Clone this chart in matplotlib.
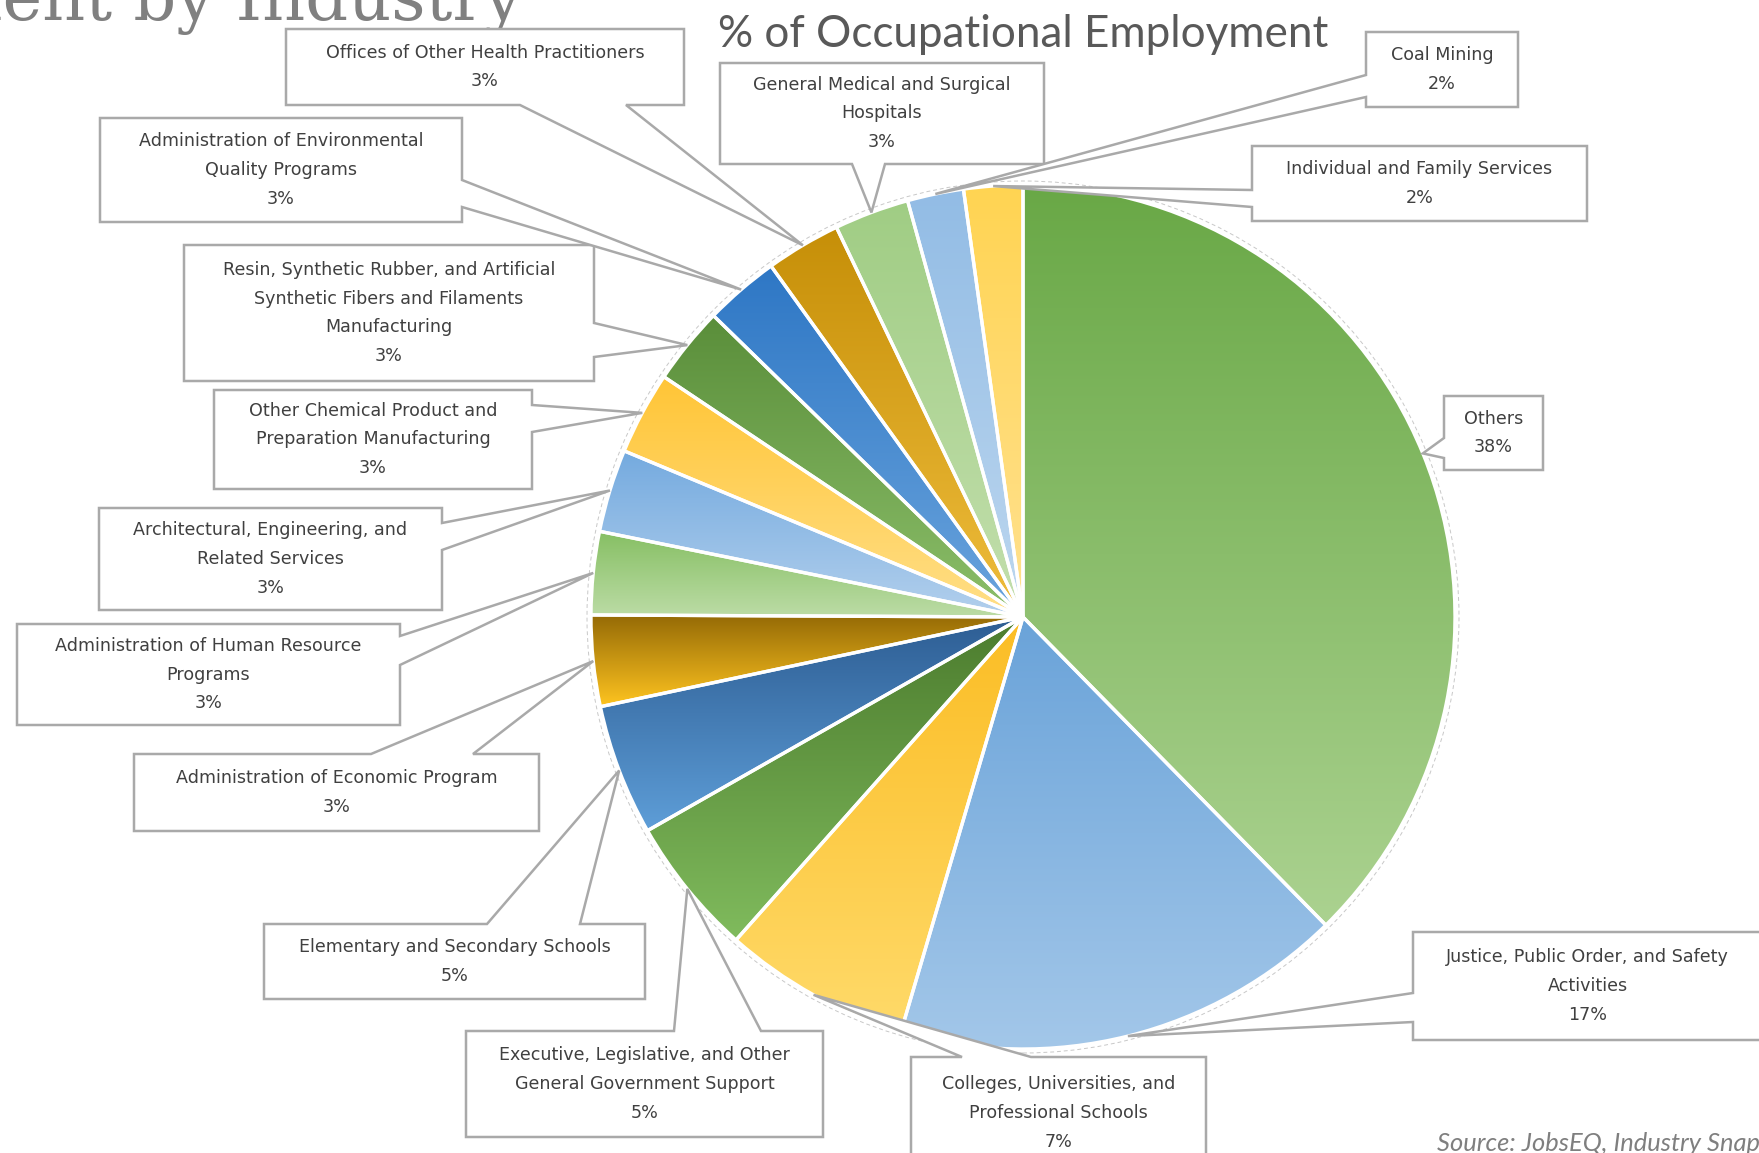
import numpy as np
import matplotlib
matplotlib.use("Agg")
import matplotlib.pyplot as plt
from matplotlib.patches import Polygon, PathPatch, Circle
from matplotlib.colors import to_rgba

# ---------------- data ----------------
categories = [
    "Others",
    "Justice, Public Order, and Safety Activities",
    "Colleges, Universities, and Professional Schools",
    "Executive, Legislative, and Other General Government Support",
    "Elementary and Secondary Schools",
    "Administration of Economic Program",
    "Administration of Human Resource Programs",
    "Architectural, Engineering, and Related Services",
    "Other Chemical Product and Preparation Manufacturing",
    "Resin, Synthetic Rubber, and Artificial Synthetic Fibers and Filaments Manufacturing",
    "Administration of Environmental Quality Programs",
    "Offices of Other Health Practitioners",
    "General Medical and Surgical Hospitals",
    "Coal Mining",
    "Individual and Family Services",
]
shares = [37.6, 16.9, 7.0, 5.2, 4.9, 3.4, 3.1, 3.1, 3.1, 2.9, 2.8, 2.8, 2.8, 2.1, 2.2]
label_text = [
    "Others",
    "Justice, Public Order, and Safety\nActivities",
    "Colleges, Universities, and\nProfessional Schools",
    "Executive, Legislative, and Other\nGeneral Government Support",
    "Elementary and Secondary Schools",
    "Administration of Economic Program",
    "Administration of Human Resource\nPrograms",
    "Architectural, Engineering, and\nRelated Services",
    "Other Chemical Product and\nPreparation Manufacturing",
    "Resin, Synthetic Rubber, and Artificial\nSynthetic Fibers and Filaments\nManufacturing",
    "Administration of Environmental\nQuality Programs",
    "Offices of Other Health Practitioners",
    "General Medical and Surgical\nHospitals",
    "Coal Mining",
    "Individual and Family Services",
]
title = "% of Occupational Employment"
page_title = "Employment by Industry"
source = "Source: JobsEQ, Industry Snapshot"

# ---------------- style ----------------
dark = ["#69a846", "#6aa3d9", "#fbbd24", "#4c7c2e", "#2d5d93", "#956a06", "#86bf63",
        "#74aadf", "#ffc536", "#5a8e3a", "#2e77c5", "#c68f08", "#a0cd84", "#92bce5", "#ffd452"]
light = ["#abd290", "#a3c7e9", "#ffda6a", "#80bb5d", "#5e9ed8", "#ffc520", "#bcdca6",
         "#b3d0ed", "#ffdf88", "#8cbf6a", "#6aa4dd", "#efbd3c", "#c3dfad", "#bdd7ef", "#ffe190"]

W, H = 1759, 1153
CX, CY, R = 1023, H - 617, 432

# callout layout in pixel coords measured from the top-left: box, pointer side, pointer base
callouts = [
    (1444, 396, 1543, 470, "left", 438, 458),
    (1413, 932, 1762, 1040, "left", 993, 1022),
    (911, 1057, 1206, 1169, "top", 962, 1031),
    (466, 1031, 823, 1137, "top", 674, 761),
    (264, 924, 645, 999, "top", 487, 580),
    (134, 754, 539, 831, "top", 371, 473),
    (17, 624, 400, 725, "right", 636, 665),
    (99, 508, 442, 610, "right", 523, 550),
    (214, 390, 532, 489, "right", 405, 432),
    (184, 245, 594, 381, "right", 323, 357),
    (100, 118, 462, 222, "right", 180, 207),
    (286, 29, 684, 105, "bottom", 520, 626),
    (720, 63, 1044, 164, "bottom", 852, 885),
    (1366, 32, 1518, 107, "left", 75, 97),
    (1252, 146, 1587, 221, "left", 190, 207),
]

fig = plt.figure(figsize=(W / 100, H / 100), dpi=100)
ax = fig.add_axes([0, 0, 1, 1])

wedges, _ = ax.pie(shares, startangle=90, counterclock=False, center=(CX, CY), radius=R,
                   colors=dark, wedgeprops=dict(linewidth=0, zorder=1))
ax.set_xlim(0, W)
ax.set_ylim(0, H)
ax.set_aspect("equal")
ax.axis("off")

# vertical gradient fill clipped to each wedge
N = 256
for w, c0, c1 in zip(wedges, dark, light):
    ext = w.get_path().get_extents()
    a0, a1 = np.array(to_rgba(c0)), np.array(to_rgba(c1))
    t = np.linspace(0, 1, N)[:, None]
    grad = (a0 * (1 - t) + a1 * t)[:, None, :]
    im = ax.imshow(grad, extent=(ext.x0, ext.x1, ext.y0, ext.y1), origin="upper",
                   aspect="auto", interpolation="bilinear", zorder=2)
    im.set_clip_path(w)
    ax.add_patch(PathPatch(w.get_path(), fc="none", ec="white", lw=2.4, zorder=3))

ax.add_patch(Circle((CX, CY), R + 4, fill=False, ec="#c8c8c8", lw=0.7, ls=(0, (4, 3)), zorder=3))
ax.set_xlim(0, W)
ax.set_ylim(0, H)

# callouts
for w, txt, v, (x0, y0, x1, y1, side, b1, b2) in zip(wedges, label_text, shares, callouts):
    mid = np.deg2rad((w.theta1 + w.theta2) / 2)
    tip = (w.center[0] + w.r * np.cos(mid), H - (w.center[1] + w.r * np.sin(mid)))
    if side == "bottom":
        pts = [(x0, y0), (x1, y0), (x1, y1), (b2, y1), tip, (b1, y1), (x0, y1)]
    elif side == "top":
        pts = [(x0, y0), (b1, y0), tip, (b2, y0), (x1, y0), (x1, y1), (x0, y1)]
    elif side == "left":
        pts = [(x0, y0), (x1, y0), (x1, y1), (x0, y1), (x0, b2), tip, (x0, b1)]
    else:
        pts = [(x0, y0), (x1, y0), (x1, b1), tip, (x1, b2), (x1, y1), (x0, y1)]
    pts = [(px, H - py) for px, py in pts]
    ax.add_patch(Polygon(pts, closed=True, fc="white", ec="#a9a9a9", lw=1.8,
                         joinstyle="miter", zorder=3.5))
    ax.text((x0 + x1) / 2, H - (y0 + y1) / 2, f"{txt}\n{round(v)}%", ha="center",
            va="center", fontsize=12.6, color="#404040", family="DejaVu Sans",
            linespacing=1.78, zorder=4)

renderer = fig.canvas.get_renderer()


def fitted(x, y, s, measure, target, **kw):
    t = ax.text(x, y, measure, fontsize=10, **kw)
    wpx = t.get_window_extent(renderer).width
    t.set_fontsize(10 * target / wpx)
    t.set_text(s)
    return t


fitted(718, H - 47, title, title, 610, ha="left", va="baseline", color="#595959",
       family="Lato")
fitted(522, H - 20, page_title, "ent by Industry", 520, ha="right", va="baseline",
       color="#808080", family="DejaVu Serif")
fitted(1437, H - 1151, source, "Source: JobsEQ, Industry Snap", 322, ha="left",
       va="baseline", color="#7f7f7f", family="Lato", style="italic")

fig.savefig("out.png", dpi=100)
